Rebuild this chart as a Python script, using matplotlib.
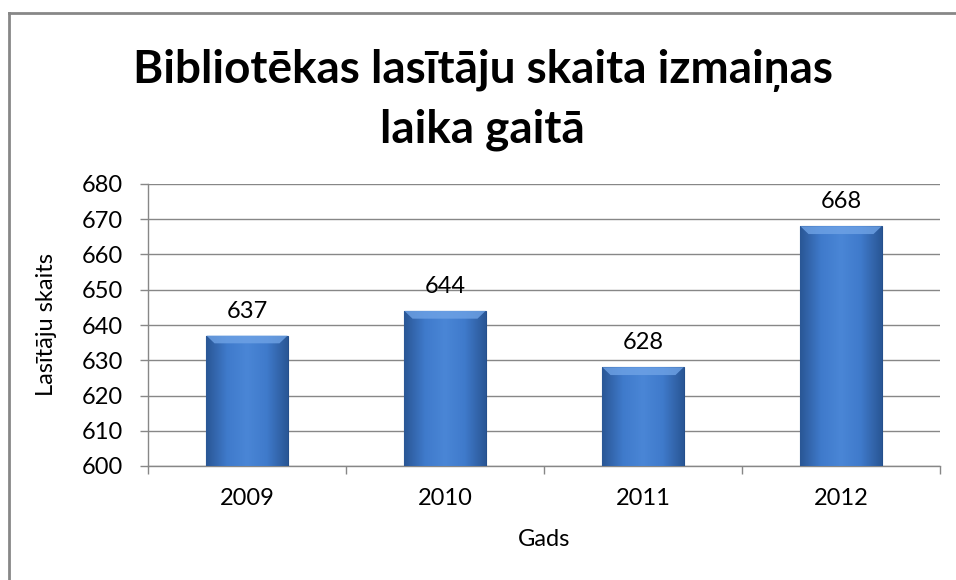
import matplotlib
matplotlib.use('Agg')
import matplotlib.pyplot as plt
import numpy as np
from matplotlib.colors import LinearSegmentedColormap
from matplotlib.lines import Line2D

years = ['2009', '2010', '2011', '2012']
readers = [637, 644, 628, 668]
title = 'Bibliotēkas lasītāju skaita izmaiņas\nlaika gaitā'
x_label = 'Gads'
y_label = 'Lasītāju skaits'

plt.rcParams['font.family'] = ['Lato', 'DejaVu Sans']

fig = plt.figure(figsize=(9.56, 5.8), dpi=100)
fig.patch.set_facecolor('white')

# chart frame (only top and left edge visible in the crop)
fig.add_artist(Line2D([9 / 956, 9 / 956], [0, 1 - 13 / 580], transform=fig.transFigure,
                      color='#878787', lw=2))
fig.add_artist(Line2D([9 / 956, 1], [1 - 13 / 580, 1 - 13 / 580], transform=fig.transFigure,
                      color='#878787', lw=2))

ax = fig.add_axes([148 / 956, 1 - 466 / 580, 792 / 956, 282 / 580])

x = np.arange(len(years))
bars = ax.bar(x, readers, width=0.41, bottom=0, color='#3D78C8', edgecolor='#244F8C',
              linewidth=0.8, zorder=3)

cmap = LinearSegmentedColormap.from_list('bevel', ['#2A5796', '#3F7ACB', '#4A86D6', '#3F7ACB', '#2A5796'])
grad = np.linspace(0, 1, 64).reshape(1, -1)
for b in bars:
    x0, w, h = b.get_x(), b.get_width(), b.get_height()
    im = ax.imshow(grad, cmap=cmap, aspect='auto', extent=[x0, x0 + w, 600, h],
                   zorder=3.5, interpolation='bicubic')
    im.set_clip_path(b)
    # lighter top bevel
    ax.fill([x0, x0 + w, x0 + w * 0.9, x0 + w * 0.1], [h, h, h - 2.2, h - 2.2],
            color='#6FA3E6', alpha=0.8, zorder=4, lw=0)
    ax.annotate(str(h), (x0 + w / 2, h), xytext=(0, 10), textcoords='offset points',
                ha='center', va='bottom', fontsize=17)

ax.set_xlim(-0.5, len(years) - 0.5)
ax.set_ylim(600, 680)
ax.set_yticks(np.arange(600, 681, 10))
ax.set_xticks(x)
ax.set_xticklabels(years)
ax.set_xticks(np.arange(-0.5, len(years), 1), minor=True)
ax.tick_params(axis='x', which='major', length=0, labelsize=17, pad=16)
ax.tick_params(axis='x', which='minor', length=6, color='#878787', width=1)
ax.tick_params(axis='y', length=6, color='#878787', width=1, labelsize=17, pad=12)

ax.grid(axis='y', color='#878787', lw=1, zorder=0)
ax.set_axisbelow(True)
for s in ['top', 'right']:
    ax.spines[s].set_visible(False)
for s in ['left', 'bottom']:
    ax.spines[s].set_color('#878787')
    ax.spines[s].set_linewidth(1)

ax.set_xlabel(x_label, fontsize=17, labelpad=14)
ax.set_ylabel(y_label, fontsize=17, labelpad=18)

fig.text(0.505, 1 - 100 / 580, title, ha='center', va='center', multialignment='center',
         fontsize=33, fontweight='bold', linespacing=1.5)

plt.savefig('out.png', dpi=100, facecolor='white')
plt.close()
